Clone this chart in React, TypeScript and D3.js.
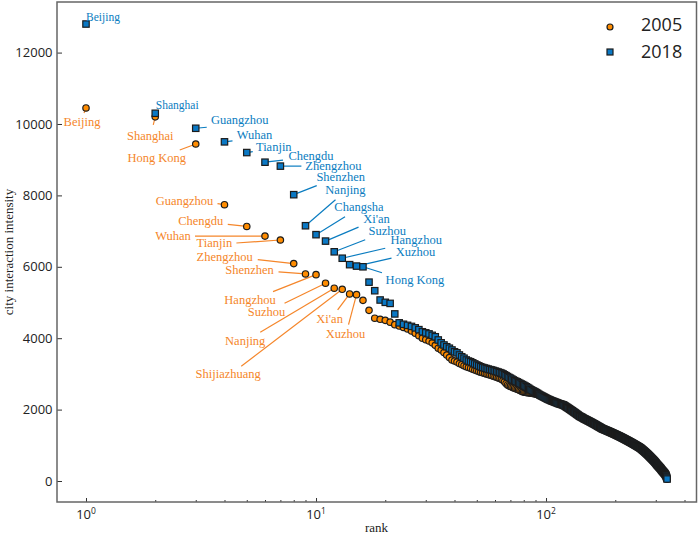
import * as d3 from 'd3';
import * as React from 'react';

// values by rank, index 0 = rank 1
const values2005 = [
  10450, 10200, 9440, 7740, 7130, 6860, 6750, 6090, 5800, 5780, 5540, 5400, 5370, 5240, 5220, 5060, 4780, 4560, 4530, 4500, 4450, 4380,
  4340, 4300, 4260, 4200, 4140, 4070, 4000, 3960, 3920, 3870, 3800, 3720, 3670, 3600, 3530, 3460, 3390,
  3360, 3330, 3290, 3260, 3230, 3200, 3180, 3160, 3130, 3110, 3090, 3065, 3045,
  3030, 3015, 3000, 2985, 2970, 2955, 2935, 2920, 2905, 2885, 2870, 2850, 2820, 2780, 2730, 2690,
  2670, 2650, 2630, 2615, 2600, 2585, 2570, 2555, 2535, 2520, 2500,
  2490, 2485, 2480, 2475, 2470, 2465, 2460, 2455, 2450, 2445, 2440, 2435, 2425, 2415, 2405,
  2390, 2376, 2360, 2346, 2330, 2316, 2300, 2286, 2274, 2264, 2250, 2240, 2230, 2220, 2210, 2200, 2190, 2180, 2170, 2160, 2154, 2146, 2138, 2130, 2124,
  2108, 2094, 2078, 2064, 2048, 2034, 2018, 2004, 1988, 1974, 1958, 1944, 1928, 1914, 1898, 1884, 1868, 1854, 1838, 1824, 1808, 1798, 1790, 1780, 1768, 1754,
  1744, 1734, 1724, 1716, 1706, 1696, 1686, 1678, 1668, 1658, 1649, 1639, 1630, 1620, 1610, 1600, 1592, 1582, 1572, 1562, 1552, 1542, 1532, 1522, 1514, 1504, 1494, 1486, 1476, 1466, 1458, 1450,
  1444, 1438, 1431, 1425, 1418, 1412, 1405, 1399, 1392, 1386, 1379, 1373, 1366, 1360, 1353, 1346, 1340, 1333, 1327, 1320, 1314, 1307, 1301, 1294, 1288, 1281, 1274, 1268, 1261, 1255, 1248, 1242, 1235, 1228, 1222, 1215, 1208, 1201, 1194,
  1188, 1181, 1174, 1168, 1161, 1154, 1148, 1141, 1134, 1128, 1121, 1114, 1108, 1101, 1094, 1088, 1081, 1074, 1068, 1061, 1054, 1048, 1041, 1034, 1028, 1021, 1014, 1007, 1001, 994, 987, 981, 974, 967, 960, 954, 947, 940, 933, 926, 919,
  911, 902, 893, 884, 875, 866, 857, 848, 839, 830, 821, 812, 802, 793, 783, 774, 764, 755, 745, 736, 726, 716, 706, 696, 686, 676, 666, 656, 646, 636, 626, 616, 606, 596, 586, 576, 566, 556, 546, 535, 524,
  514, 502, 490, 478, 466, 454, 444, 434, 424, 414, 404, 394, 384, 374, 364, 354, 344, 332, 320, 308, 296, 286, 276, 266, 256, 246, 236, 226, 216, 206, 194, 182, 168, 152, 132, 109, 80, 50,
];

const values2018 = [
  12800, 10300, 9880, 9500, 9200, 8930, 8820, 8020, 7150, 6900, 6720, 6420, 6240, 6060, 6020, 6000, 5570, 5330, 5070, 5005, 4975, 4680,
  4430, 4390, 4360, 4330, 4290, 4240, 4180, 4150, 4120, 4080, 4040, 3950, 3870, 3810, 3760, 3720, 3670,
  3620, 3590, 3530, 3480, 3440, 3390, 3360, 3340, 3310, 3280, 3250, 3225, 3200,
  3180, 3165, 3150, 3135, 3120, 3110, 3095, 3080, 3065, 3050, 3035, 3020, 3000, 2975, 2950, 2925, 2900, 2880, 2855, 2830,
  2810, 2790, 2775, 2755, 2735, 2715, 2700, 2680, 2660, 2640, 2620, 2600, 2575, 2555, 2535, 2520, 2505, 2490, 2470, 2450, 2430, 2410,
  2395, 2380, 2365, 2350, 2335, 2320, 2305, 2290, 2280, 2270, 2255, 2245, 2235, 2225, 2215, 2205, 2195, 2185, 2175, 2165, 2160, 2150, 2145, 2135, 2130,
  2115, 2100, 2085, 2070, 2055, 2040, 2025, 2010, 1995, 1980, 1965, 1950, 1935, 1920, 1905, 1890, 1875, 1860, 1845, 1830, 1815, 1805, 1795, 1785, 1775, 1760,
  1750, 1740, 1730, 1722, 1712, 1702, 1692, 1684, 1674, 1664, 1655, 1645, 1636, 1626, 1616, 1606, 1598, 1588, 1578, 1568, 1558, 1548, 1538, 1528, 1520, 1510, 1500, 1492, 1482, 1472, 1464, 1456,
  1450, 1444, 1437, 1431, 1424, 1418, 1411, 1405, 1398, 1392, 1385, 1379, 1372, 1366, 1359, 1352, 1346, 1339, 1333, 1326, 1320, 1313, 1307, 1300, 1294, 1287, 1280, 1274, 1267, 1261, 1254, 1248, 1241, 1234, 1228, 1221, 1214, 1207, 1200,
  1194, 1187, 1180, 1174, 1167, 1160, 1154, 1147, 1140, 1134, 1127, 1120, 1114, 1107, 1100, 1094, 1087, 1080, 1074, 1067, 1060, 1054, 1047, 1040, 1034, 1027, 1020, 1013, 1007, 1000, 993, 987, 980, 973, 966, 960, 953, 946, 939, 932, 925,
  917, 908, 899, 890, 881, 872, 863, 854, 845, 836, 827, 818, 808, 799, 789, 780, 770, 761, 751, 742, 732, 722, 712, 702, 692, 682, 672, 662, 652, 642, 632, 622, 612, 602, 592, 582, 572, 562, 552, 541, 530,
  520, 508, 496, 484, 472, 460, 450, 440, 430, 420, 410, 400, 390, 380, 370, 360, 350, 338, 326, 314, 302, 292, 282, 272, 262, 252, 242, 232, 222, 212, 200, 188, 174, 158, 138, 115, 85, 55,
];

const yTicks = [0, 2000, 4000, 6000, 8000, 10000, 12000];
const xMajor = [1, 10, 100];
const xMinor = [2, 3, 4, 5, 6, 7, 8, 9, 20, 30, 40, 50, 60, 70, 80, 90, 200, 300, 400];

// [name, rank, label offset from point, leader start offset from point]
type Note = [string, number, number, number, number?, number?];

const notes2005: Note[] = [
  ['Beijing', 1, -4, 14, -2, 5],
  ['Shanghai', 2, -5, 19, -2, 8],
  ['Hong Kong', 3, -39, 14, -16, 6],
  ['Guangzhou', 4, -40, -4, -7, -1],
  ['Chengdu', 5, -46, -5, -19, -2],
  ['Wuhan', 6, -92, 0, -70, 0],
  ['Tianjin', 7, -66, 3, -44, 3],
  ['Zhengzhou', 8, -69, -7, -36, -4],
  ['Shenzhen', 9, -56, -4, -27, -2],
  ['Hangzhou', 10, -66, 25, -43, 17],
  ['Suzhou', 11, -59, 29, -41, 20],
  ['Nanjing', 12, -89, 53, -74, 44],
  ['Shijiazhuang', 13, -114, 85, -101, 77],
  ["Xi'an", 14, -20, 25, -12, 16],
  ['Xuzhou', 15, -11, 39, -8, 30],
];

const notes2018: Note[] = [
  ['Beijing', 1, 17, -7],
  ['Shanghai', 2, 22, -8],
  ['Guangzhou', 3, 44, -8, 11, -1],
  ['Wuhan', 4, 30, -7, 8, -1],
  ['Tianjin', 5, 27, -6, 6, -1],
  ['Chengdu', 6, 46, -6, 18, -2],
  ['Zhengzhou', 7, 53, 0, 21, 0],
  ['Shenzhen', 8, 47, -18, 23, -9],
  ['Nanjing', 9, 40, -36, 30, -26],
  ['Changsha', 10, 43, -28, 29, -18],
  ["Xi'an", 11, 51, -22, 33, -14],
  ['Suzhou', 12, 53, -21, 31, -12],
  ['Hangzhou', 13, 74, -18, 43, -10],
  ['Xuzhou', 15, 59, -14, 35, -8],
  ['Hong Kong', 16, 52, 13, 19, 6],
];

const ORANGE = '#ff8c00';
const BLUE = '#0a78c4';
const ORANGE_TEXT = '#f5862a';
const BLUE_TEXT = '#0a7cc0';
const EDGE = '#1c1c1c';
const SPINE = '#666666';
const SERIF = '"Liberation Serif", serif';
const SANS = '"Open Sans", sans-serif';

const App = () => {
  const ref = React.useRef<SVGSVGElement | null>(null);

  React.useEffect(() => {
    const svg = d3.select(ref.current);
    svg.selectAll('*').remove();

    const margin = { top: 2, right: 2.5, bottom: 33, left: 57 };
    const width = 699;
    const height = 535;

    const xScale = d3
      .scaleLog()
      .domain([0.748, 451])
      .range([margin.left, width - margin.right]);
    const yScale = d3
      .scaleLinear()
      .domain([-588, 13417])
      .range([height - margin.bottom, margin.top]);

    const axisBottom = height - margin.bottom;

    // minor + major x ticks, inward
    const xAxis = svg.append('g').attr('transform', `translate(0,${axisBottom})`);
    xAxis.call(d3.axisBottom(xScale).tickValues(xMinor).tickSize(-2).tickFormat(() => '') as any);
    xAxis.select('.domain').remove();
    xAxis.selectAll('.tick line').attr('stroke', '#333');

    const xAxisMajor = svg.append('g').attr('transform', `translate(0,${axisBottom})`);
    xAxisMajor.call(d3.axisBottom(xScale).tickValues(xMajor).tickSize(-4).tickFormat(() => '') as any);
    xAxisMajor.select('.domain').remove();
    xAxisMajor.selectAll('.tick line').attr('stroke', '#333');
    xAxisMajor.selectAll('.tick text').remove();

    xMajor.forEach((d, i) => {
      const t = svg
        .append('text')
        .attr('x', xScale(d))
        .attr('y', axisBottom + 17)
        .attr('text-anchor', 'middle')
        .attr('font-family', SANS)
        .attr('font-size', 13)
        .attr('fill', '#222');
      t.append('tspan').text('10');
      t.append('tspan').attr('dy', -5).attr('font-size', 8.5).text(i);
    });

    const yAxis = svg.append('g').attr('transform', `translate(${margin.left},0)`);
    yAxis.call(d3.axisLeft(yScale).tickValues(yTicks).tickSize(-5).tickPadding(4.5).tickFormat(d3.format('d')) as any);
    yAxis.select('.domain').remove();
    yAxis.selectAll('.tick line').attr('stroke', '#333');
    yAxis.selectAll('.tick text').attr('font-family', SANS).attr('font-size', 13).attr('fill', '#222');

    // leaders sit under the markers
    const drawLeaders = (notes: Note[], values: number[], color: string) => {
      svg
        .append('g')
        .selectAll('line')
        .data(notes.filter((n) => n[4] !== undefined))
        .enter()
        .append('line')
        .attr('x1', (n) => xScale(n[1]))
        .attr('y1', (n) => yScale(values[n[1] - 1]))
        .attr('x2', (n) => xScale(n[1]) + (n[4] as number))
        .attr('y2', (n) => yScale(values[n[1] - 1]) + (n[5] as number))
        .attr('stroke', color)
        .attr('stroke-width', 1.2);
    };
    drawLeaders(notes2005, values2005, ORANGE_TEXT);
    drawLeaders(notes2018, values2018, BLUE_TEXT);

    svg
      .append('g')
      .selectAll('circle')
      .data(values2005)
      .enter()
      .append('circle')
      .attr('cx', (_, i) => xScale(i + 1))
      .attr('cy', (d) => yScale(d))
      .attr('r', 3.2)
      .attr('fill', ORANGE)
      .attr('stroke', EDGE)
      .attr('stroke-width', 1.2);

    svg
      .append('g')
      .selectAll('rect')
      .data(values2018)
      .enter()
      .append('rect')
      .attr('x', (_, i) => xScale(i + 1) - 3.2)
      .attr('y', (d) => yScale(d) - 3.2)
      .attr('width', 6.4)
      .attr('height', 6.4)
      .attr('fill', BLUE)
      .attr('stroke', EDGE)
      .attr('stroke-width', 1.2);

    const drawLabels = (notes: Note[], values: number[], color: string) => {
      svg
        .append('g')
        .selectAll('text')
        .data(notes)
        .enter()
        .append('text')
        .attr('x', (n) => xScale(n[1]) + n[2])
        .attr('y', (n) => yScale(values[n[1] - 1]) + n[3])
        .attr('dy', '0.32em')
        .attr('text-anchor', 'middle')
        .attr('font-family', SERIF)
        .attr('font-size', (n) => (n[1] <= 2 && color === BLUE_TEXT ? 11.5 : 12.5))
        .attr('fill', color)
        .text((n) => n[0]);
    };
    drawLabels(notes2005, values2005, ORANGE_TEXT);
    drawLabels(notes2018, values2018, BLUE_TEXT);

    // frame
    svg
      .append('rect')
      .attr('x', margin.left)
      .attr('y', margin.top)
      .attr('width', width - margin.left - margin.right)
      .attr('height', height - margin.top - margin.bottom)
      .attr('fill', 'none')
      .attr('stroke', SPINE)
      .attr('stroke-width', 1.5);

    // legend
    const legend = svg.append('g');
    legend.append('circle').attr('cx', 610).attr('cy', 27).attr('r', 3).attr('fill', ORANGE).attr('stroke', EDGE).attr('stroke-width', 1.2);
    legend.append('rect').attr('x', 607).attr('y', 49).attr('width', 6).attr('height', 6).attr('fill', BLUE).attr('stroke', EDGE).attr('stroke-width', 1.2);
    ['2005', '2018'].forEach((label, i) => {
      legend
        .append('text')
        .attr('x', 641)
        .attr('y', 31 + i * 27)
        .attr('font-family', SANS)
        .attr('font-size', 18)
        .attr('fill', '#222')
        .text(label);
    });

    svg
      .append('text')
      .attr('x', 376.5)
      .attr('y', 532)
      .attr('text-anchor', 'middle')
      .attr('font-family', SERIF)
      .attr('font-size', 13)
      .attr('fill', '#222')
      .text('rank');

    svg
      .append('text')
      .attr('transform', 'translate(13,252) rotate(-90)')
      .attr('text-anchor', 'middle')
      .attr('font-family', SERIF)
      .attr('font-size', 13)
      .attr('fill', '#222')
      .text('city interaction intensity');
  }, []);

  return <svg ref={ref} width={699} height={535} style={{ position: 'absolute', left: 0, top: 0, background: '#fff' }} />;
};

export default App;
